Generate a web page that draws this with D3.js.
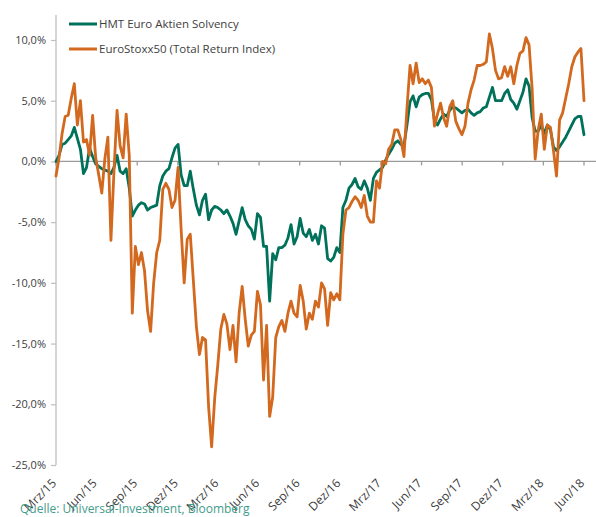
<!DOCTYPE html>
<html>
<head>
<meta charset="utf-8">
<script src="https://cdn.jsdelivr.net/npm/d3@7/dist/d3.min.js"></script>
<style>
  body { margin: 0; background: #fff; }
  svg text { font-family: 'Open Sans', sans-serif; fill: #404040; }
  .axis-line { stroke: #bfbfbf; stroke-width: 1.3; }
  .zero-line { stroke: #9a9a9a; stroke-width: 1.3; }
  .series { fill: none; stroke-width: 2.8; stroke-linejoin: round; stroke-linecap: round; }
</style>
</head>
<body>
<svg id="chart_svg"></svg>
<script>
var width = 596,
  height = 517;

// quarter labels on the date axis (one every 3 months)
var tickLabels = ['Mrz/15', 'Jun/15', 'Sep/15', 'Dez/15', 'Mrz/16', 'Jun/16', 'Sep/16',
  'Dez/16', 'Mrz/17', 'Jun/17', 'Sep/17', 'Dez/17', 'Mrz/18', 'Jun/18'];

var yTicks = [10, 5, 0, -5, -10, -15, -20, -25];

var seriesNames = ['HMT Euro Aktien Solvency', 'EuroStoxx50 (Total Return Index)'];
var seriesColors = ['#00715a', '#d2691e'];

// weekly readings in %, starting early March 2015
var hmtValues = [
  0.0, 0.5, 1.4, 1.5, 1.8, 2.1, 2.8, 1.9, 1.0, -1.0,
  -0.5, 1.1, 0.4, -0.2, -0.4, -0.6, -0.7, -0.8, -1.0, -0.5,
  0.5, -0.8, -1.0, -0.6, -2.2, -4.5, -4.0, -3.6, -3.4, -3.5,
  -4.0, -3.8, -3.7, -3.6, -2.0, -1.2, -0.8, -0.6, 0.3, 1.1,
  1.4, -1.1, -2.0, -2.0, -0.8, -2.3, -3.6, -4.4, -3.2, -2.7,
  -4.8, -4.0, -3.7, -3.8, -4.0, -4.3, -4.0, -4.5, -5.1, -6.0,
  -4.9, -3.8, -4.8, -5.3, -5.6, -6.4, -4.3, -4.6, -7.0, -7.0,
  -11.5, -7.6, -8.1, -7.1, -7.1, -6.9, -6.3, -5.2, -6.8, -6.2,
  -4.7, -5.9, -6.2, -5.6, -6.5, -6.0, -6.8, -5.3, -5.5, -8.0,
  -8.2, -7.9, -7.1, -7.5, -3.8, -3.2, -2.2, -1.9, -1.4, -2.1,
  -2.3, -1.6, -2.2, -3.2, -1.4, -0.9, -0.7, -0.5, 0.1, 0.6,
  1.0, 1.5, 1.7, 1.4, 1.3, 3.0, 4.9, 5.4, 4.5, 5.3,
  5.5, 5.6, 5.6, 5.1, 3.4, 3.0, 3.5, 3.9, 3.7, 4.2,
  4.5, 4.4, 4.2, 4.0, 4.2, 4.3, 4.0, 3.8, 4.0, 4.1,
  4.4, 4.5, 5.3, 6.1, 5.0, 5.0, 5.0, 5.6, 5.9, 5.1,
  4.8, 4.3, 5.0, 5.7, 6.8, 6.2, 3.6, 2.5, 2.5, 3.0,
  2.3, 3.0, 2.6, 1.2, 0.9, 1.2, 1.6, 2.0, 2.5, 3.0,
  3.5, 3.7, 3.7, 2.2
];

var stoxxValues = [
  -1.2, 0.3, 2.3, 3.7, 3.8, 5.2, 6.4, 3.0, 5.0, 1.6,
  1.8, 0.5, 3.8, 0.3, -1.1, -2.6, 0.2, 2.0, -6.5, -0.8,
  4.2, 1.3, 0.3, 3.9, 0.5, -12.5, -7.0, -8.5, -7.5, -9.0,
  -12.3, -14.0, -10.0, -7.5, -6.5, -2.3, -1.8, -2.3, -3.8, -3.2,
  -0.5, -5.6, -10.0, -6.4, -6.0, -9.8, -13.6, -15.9, -14.5, -14.7,
  -20.2, -23.5, -19.5, -16.8, -13.8, -12.6, -13.4, -15.5, -13.5, -16.5,
  -12.5, -10.3, -13.0, -15.2, -14.3, -14.0, -10.7, -11.8, -18.0, -13.5,
  -21.0, -19.4, -14.5, -13.6, -13.1, -14.0, -12.5, -11.5, -12.5, -12.8,
  -10.2, -11.5, -13.8, -12.5, -13.0, -11.5, -12.0, -10.0, -10.5, -13.5,
  -10.8, -11.4, -10.9, -11.4, -6.0, -4.0, -3.8, -3.3, -2.9, -3.2,
  -3.8, -2.8, -4.5, -5.0, -5.0, -1.6, -2.2, 0.0, -0.2, 1.0,
  1.4, 2.6, 2.6, 1.8, 0.4, 4.4, 7.9, 6.4, 8.1, 6.5,
  6.8, 6.4, 6.7, 6.1, 2.9, 3.9, 4.8, 3.6, 2.9, 4.5,
  5.0, 3.3, 2.7, 2.2, 2.9, 4.8, 5.9, 6.7, 7.9, 7.9,
  8.0, 8.2, 10.5, 9.3, 7.5, 6.8, 6.9, 7.8, 7.0, 7.8,
  6.4, 7.9, 8.9, 9.1, 10.2, 9.6, 6.0, 0.2, 2.6, 3.9,
  1.0, 3.0, 2.8, 0.9, -1.2, 3.4, 4.0, 5.2, 6.4, 7.8,
  8.6, 9.0, 9.3, 5.0
];

var margin = {top: 40, right: 12, bottom: 52, left: 56};

var svg = d3.select('#chart_svg')
  .attr('width', width)
  .attr('height', height);

var monthsSpan = (tickLabels.length - 1) * 3;
var monthStep = monthsSpan / (hmtValues.length - 1);

var x = d3.scaleLinear()
  .domain([0, monthsSpan])
  .range([margin.left, width - margin.right]);

var y = d3.scaleLinear()
  .domain([d3.min(yTicks), d3.max(yTicks)])
  .range([height - margin.bottom, margin.top]);

// value axis
var yAxis = d3.axisLeft(y)
  .tickValues(yTicks)
  .tickSize(5)
  .tickPadding(5)
  .tickFormat(function(d) {
    return d.toFixed(1).replace('.', ',') + '%';
  });

var yAxisGroup = svg.append('g')
  .attr('transform', 'translate(' + margin.left + ',0)')
  .call(yAxis);

yAxisGroup.select('.domain').remove();
yAxisGroup.selectAll('.tick line').attr('stroke', '#bfbfbf').attr('stroke-width', 1.2);
yAxisGroup.selectAll('.tick text')
  .style('font-size', '11px')
  .attr('fill', '#404040');

svg.append('line')
  .attr('class', 'axis-line')
  .attr('x1', margin.left)
  .attr('x2', margin.left)
  .attr('y1', y(d3.max(yTicks)) - 25)
  .attr('y2', y(d3.min(yTicks)));

// zero line with quarter ticks
svg.append('line')
  .attr('class', 'zero-line')
  .attr('x1', margin.left)
  .attr('x2', width)
  .attr('y1', y(0))
  .attr('y2', y(0));

svg.selectAll('.q-tick')
  .data(tickLabels)
  .enter()
  .append('line')
  .attr('class', 'q-tick zero-line')
  .attr('x1', function(d, i) { return x(i * 3); })
  .attr('x2', function(d, i) { return x(i * 3); })
  .attr('y1', y(0))
  .attr('y2', y(0) + 4);

svg.selectAll('.x-label')
  .data(tickLabels)
  .enter()
  .append('text')
  .attr('class', 'x-label')
  .attr('transform', function(d, i) {
    return 'translate(' + (x(i * 3) + 1) + ',' + (y(d3.min(yTicks)) + 19) + ') rotate(-45)';
  })
  .style('text-anchor', 'end')
  .style('font-size', '12px')
  .text(function(d) { return d; });

// series
var line = d3.line()
  .x(function(d, i) { return x(i * monthStep); })
  .y(function(d) { return y(d); });

[hmtValues, stoxxValues].forEach(function(values, k) {
  svg.append('path')
    .datum(values)
    .attr('class', 'series')
    .attr('stroke', seriesColors[k])
    .attr('d', line);
});

// legend
var legend = svg.selectAll('.legend')
  .data(seriesNames)
  .enter()
  .append('g')
  .attr('class', 'legend')
  .attr('transform', function(d, i) {
    return 'translate(69,' + (24 + i * 25) + ')';
  });

legend.append('line')
  .attr('x1', 0)
  .attr('x2', 28)
  .attr('stroke', function(d, i) { return seriesColors[i]; })
  .attr('stroke-width', 3);

legend.append('text')
  .attr('x', 30)
  .attr('dy', '0.35em')
  .style('font-size', '11.5px')
  .text(function(d) { return d; });

svg.append('text')
  .attr('x', 20)
  .attr('y', 513)
  .style('font-size', '12px')
  .style('fill', '#3f9d8b')
  .text('Quelle: Universal-Investment, Bloomberg');
</script>
</body>
</html>
